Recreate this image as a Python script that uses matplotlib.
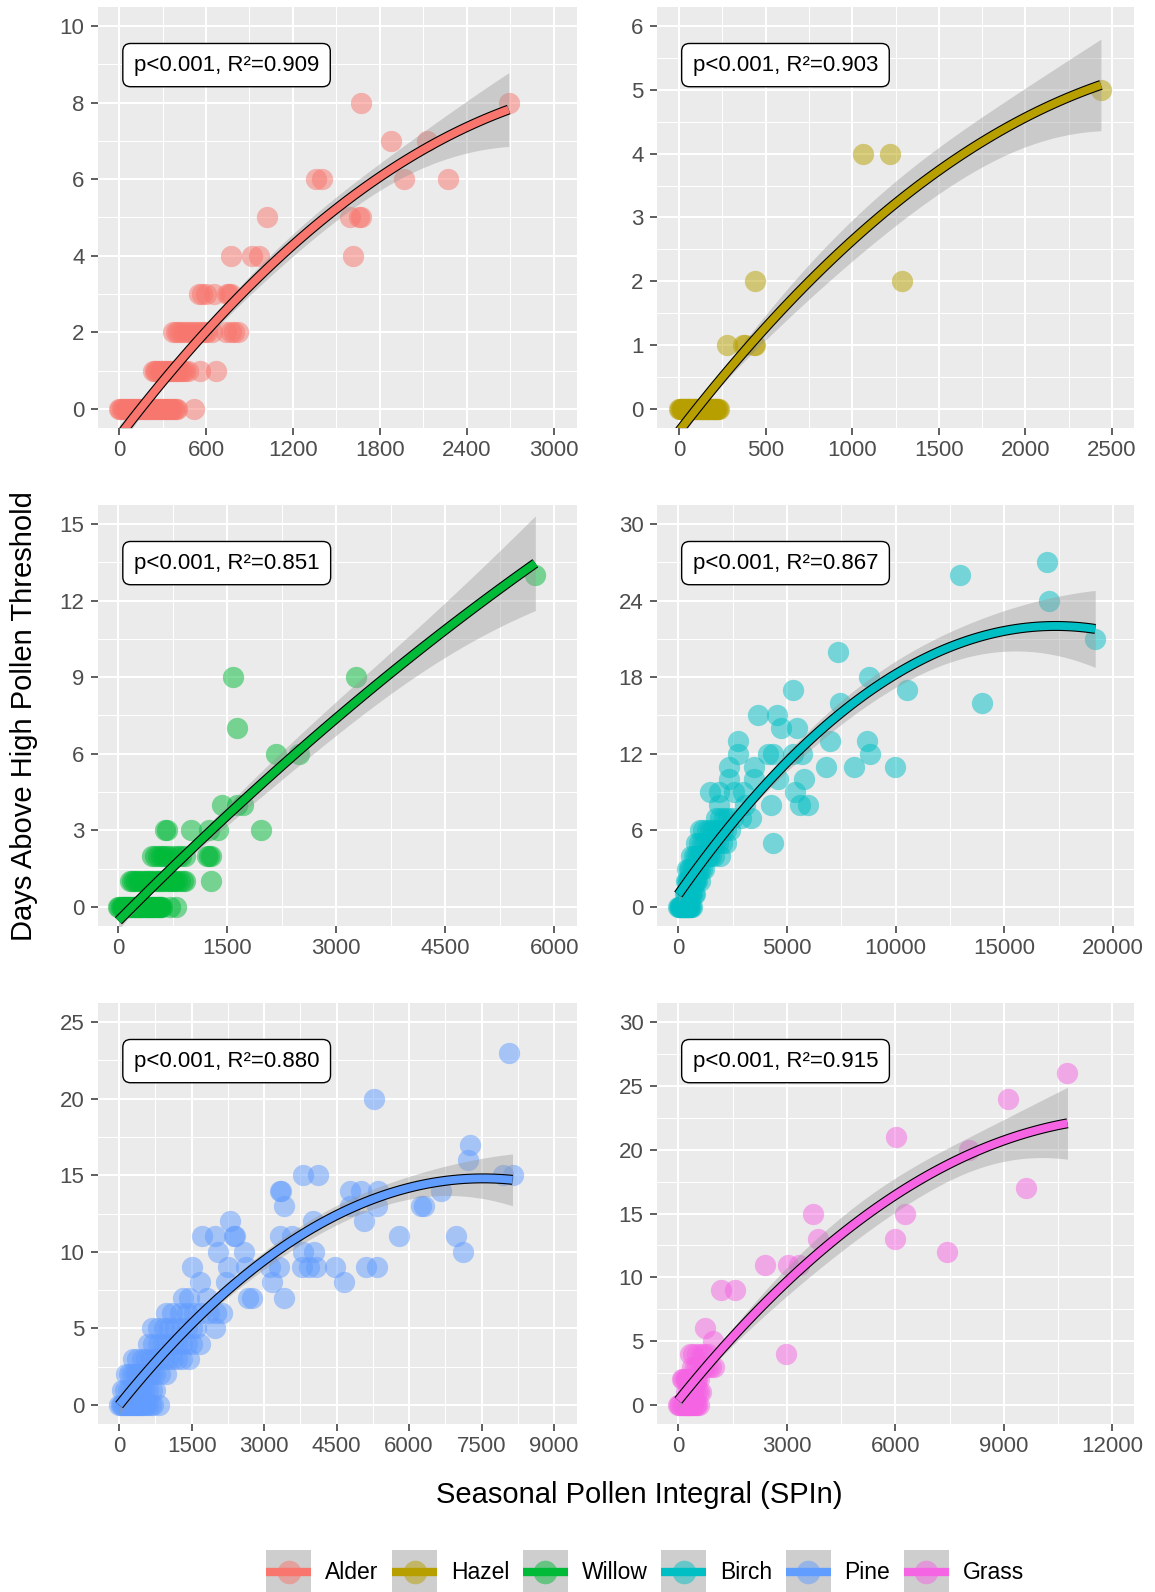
import numpy as np
import matplotlib
matplotlib.use('Agg')
import matplotlib.pyplot as plt
from matplotlib.lines import Line2D
from matplotlib.patches import Rectangle
from matplotlib.legend_handler import HandlerBase

plt.rcParams['font.family'] = ['Liberation Sans', 'DejaVu Sans']

species = ['Alder', 'Hazel', 'Willow', 'Birch', 'Pine', 'Grass']
colors = ['#F8766D', '#B79F00', '#00BA38', '#00BFC4', '#619CFF', '#F564E3']
r2_labels = ['0.909', '0.903', '0.851', '0.867', '0.880', '0.915']

# values (SPIn, days); the saturated blobs near the origin
# hold many overlapping points
alder_x = [0, 10, 20, 30, 40, 50, 60, 70, 80, 90, 100, 110, 120, 130, 140, 150, 160, 170, 180, 190, 200,
           210, 220, 230, 240, 250, 260, 270, 280, 290, 300, 310, 320, 330, 340, 350, 360, 370, 380, 390, 400, 520,
           234, 246, 258, 270, 282, 294, 306, 318, 330, 342, 354, 366, 378, 390, 402, 414, 426, 440, 455, 475, 557, 667,
           371, 390, 410, 430, 450, 470, 490, 510, 530, 550, 570, 590, 610, 640, 735, 770, 790, 818,
           554, 575, 598, 657, 748, 760, 770,
           773, 914, 965, 1616,
           1024, 1590, 1654, 1667,
           1361, 1399, 1968, 2267,
           1879, 2127,
           1672, 2688]
alder_y = [0, 0, 0, 0, 0, 0, 0, 0, 0, 0, 0, 0, 0, 0, 0, 0, 0, 0, 0, 0, 0,
           0, 0, 0, 0, 0, 0, 0, 0, 0, 0, 0, 0, 0, 0, 0, 0, 0, 0, 0, 0, 0,
           1, 1, 1, 1, 1, 1, 1, 1, 1, 1, 1, 1, 1, 1, 1, 1, 1, 1, 1, 1, 1, 1,
           2, 2, 2, 2, 2, 2, 2, 2, 2, 2, 2, 2, 2, 2, 2, 2, 2, 2,
           3, 3, 3, 3, 3, 3, 3,
           4, 4, 4, 4,
           5, 5, 5, 5,
           6, 6, 6, 6,
           7, 7,
           8, 8]

hazel_x = [0, 5, 10, 15, 20, 25, 30, 35, 40, 45, 50, 55, 60, 65, 70, 75, 80, 85, 90, 95, 100, 105, 110, 115,
           120, 125, 130, 135, 140, 145, 150, 155, 160, 165, 170, 175, 180, 185, 190, 195, 200, 205, 210, 215,
           220, 225, 230,
           275, 371, 380, 434, 440,
           441, 1288,
           1063, 1218,
           2436]
hazel_y = [0, 0, 0, 0, 0, 0, 0, 0, 0, 0, 0, 0, 0, 0, 0, 0, 0, 0, 0, 0, 0, 0, 0, 0,
           0, 0, 0, 0, 0, 0, 0, 0, 0, 0, 0, 0, 0, 0, 0, 0, 0, 0, 0, 0,
           0, 0, 0,
           1, 1, 1, 1, 1,
           2, 2,
           4, 4,
           5]

willow_x = [0, 15, 30, 45, 60, 75, 90, 105, 120, 135, 150, 165, 180, 195, 210, 225, 240, 255, 270, 285, 300,
            315, 330, 345, 360, 375, 390, 405, 420, 435, 450, 465, 480, 495, 510, 525, 540, 555, 570, 585, 600,
            714, 791,
            153, 183, 213, 243, 273, 303, 333, 363, 393, 423, 453, 483, 513, 543, 573, 603, 633, 663, 693, 723,
            753, 783, 813, 850, 885, 918, 1276,
            459, 500, 540, 580, 612, 650, 700, 765, 820, 867, 918, 1224, 1250, 1276,
            638, 663, 995, 1250, 1378, 1964,
            1429, 1633, 1709,
            2168, 2490,
            1633,
            1571, 3265,
            5740]
willow_y = [0, 0, 0, 0, 0, 0, 0, 0, 0, 0, 0, 0, 0, 0, 0, 0, 0, 0, 0, 0, 0,
            0, 0, 0, 0, 0, 0, 0, 0, 0, 0, 0, 0, 0, 0, 0, 0, 0, 0, 0, 0,
            0, 0,
            1, 1, 1, 1, 1, 1, 1, 1, 1, 1, 1, 1, 1, 1, 1, 1, 1, 1, 1, 1,
            1, 1, 1, 1, 1, 1, 1,
            2, 2, 2, 2, 2, 2, 2, 2, 2, 2, 2, 2, 2, 2,
            3, 3, 3, 3, 3, 3,
            4, 4, 4,
            6, 6,
            7,
            9, 9,
            13]

birch_x = [0, 30, 60, 90, 120, 150, 180, 210, 240, 270, 300, 330, 360, 390, 420, 450, 480, 515, 550, 590, 630,
           300, 350, 400, 450, 500, 550, 600, 650, 700, 770,
           350, 400, 450, 500, 550, 600, 650, 700, 750, 800, 850, 1000,
           400, 475, 550, 625, 700, 775, 850, 925, 1000, 1100, 1200,
           600, 700, 800, 900, 1000, 1100, 1200, 1300, 1400, 1525, 1650, 1900,
           800, 950, 1100, 1250, 1400, 1550, 1700, 1850, 2000, 2200, 4371,
           1000, 1150, 1300, 1450, 1600, 1750, 1900, 2050, 2200, 2400,
           1722, 1900, 2100, 2300, 2500, 2903, 3325,
           1890, 3072, 4253, 5603, 5992,
           1468, 1890, 2565, 2987, 5350,
           2312, 3494, 4591, 5772,
           2312, 3494, 6785, 8101, 9958,
           2734, 4118, 4338, 5266, 5688, 8810,
           2768, 7004, 8675,
           4726, 5468,
           3662, 4540,
           7460, 13958,
           5300, 10548,
           8760,
           7342,
           19190,
           17046,
           12945,
           16962]
birch_y = [0, 0, 0, 0, 0, 0, 0, 0, 0, 0, 0, 0, 0, 0, 0, 0, 0, 0, 0, 0, 0,
           1, 1, 1, 1, 1, 1, 1, 1, 1, 1,
           2, 2, 2, 2, 2, 2, 2, 2, 2, 2, 2, 2,
           3, 3, 3, 3, 3, 3, 3, 3, 3, 3, 3,
           4, 4, 4, 4, 4, 4, 4, 4, 4, 4, 4, 4,
           5, 5, 5, 5, 5, 5, 5, 5, 5, 5, 5,
           6, 6, 6, 6, 6, 6, 6, 6, 6, 6,
           7, 7, 7, 7, 7, 7, 7,
           8, 8, 8, 8, 8,
           9, 9, 9, 9, 9,
           10, 10, 10, 10,
           11, 11, 11, 11, 11,
           12, 12, 12, 12, 12, 12,
           13, 13, 13,
           14, 14,
           15, 15,
           16, 16,
           17, 17,
           18,
           20,
           21,
           24,
           26,
           27]

pine_x = [0, 30, 60, 90, 120, 150, 180, 210, 240, 270, 300, 330, 360, 390, 420, 450, 480, 510, 550, 600, 650, 700, 830,
          60, 120, 180, 240, 300, 360, 420, 480, 540, 600, 675, 750,
          140, 200, 260, 320, 380, 440, 500, 560, 620, 680, 750, 850, 980,
          290, 380, 470, 560, 650, 740, 830, 920, 1010, 1100, 1200, 1300, 1440,
          600, 700, 800, 900, 1000, 1100, 1200, 1300, 1400, 1500, 1670,
          680, 800, 920, 1040, 1160, 1280, 1400, 1500, 1593, 1975,
          980, 1100, 1250, 1400, 1550, 1700, 1850, 2000, 2130,
          1325, 1450, 1822, 2665, 2741, 3415,
          1669, 2205, 3162, 4655,
          1516, 2243, 2626, 3124, 3315, 3775, 3928, 4081, 4464, 5115, 5329,
          2052, 2588, 3813, 4028, 7106,
          1707, 1975, 2374, 2397, 3331, 3583, 5789, 6968,
          2297, 4005, 5077,
          3415, 4770, 5345, 6248, 6300,
          3338, 3350, 4770, 5000, 5360, 6650,
          3813, 4119, 7948, 8140,
          7221,
          7259,
          5268,
          8063]
pine_y = [0, 0, 0, 0, 0, 0, 0, 0, 0, 0, 0, 0, 0, 0, 0, 0, 0, 0, 0, 0, 0, 0, 0,
          1, 1, 1, 1, 1, 1, 1, 1, 1, 1, 1, 1,
          2, 2, 2, 2, 2, 2, 2, 2, 2, 2, 2, 2, 2,
          3, 3, 3, 3, 3, 3, 3, 3, 3, 3, 3, 3, 3,
          4, 4, 4, 4, 4, 4, 4, 4, 4, 4, 4,
          5, 5, 5, 5, 5, 5, 5, 5, 5, 5,
          6, 6, 6, 6, 6, 6, 6, 6, 6,
          7, 7, 7, 7, 7, 7,
          8, 8, 8, 8,
          9, 9, 9, 9, 9, 9, 9, 9, 9, 9, 9,
          10, 10, 10, 10, 10,
          11, 11, 11, 11, 11, 11, 11, 11,
          12, 12, 12,
          13, 13, 13, 13, 13,
          14, 14, 14, 14, 14, 14,
          15, 15, 15, 15,
          16,
          17,
          20,
          23]

grass_x = [0, 30, 60, 90, 120, 150, 180, 210, 240, 270, 300, 330, 360, 390, 420, 450, 480, 520, 580,
           220, 270, 320, 370, 420, 470, 520, 570, 630,
           100, 140, 172, 210, 250, 290, 330, 370, 410, 450, 490, 530, 570,
           375, 450, 525, 600, 675, 750, 825, 900, 1000,
           320, 420, 527, 620, 700, 831, 2979,
           952,
           750,
           1185, 1560,
           2401, 3040, 3343,
           7416,
           3870, 5978,
           3718, 6281,
           9625,
           8045,
           6018,
           9119,
           10760]
grass_y = [0, 0, 0, 0, 0, 0, 0, 0, 0, 0, 0, 0, 0, 0, 0, 0, 0, 0, 0,
           1, 1, 1, 1, 1, 1, 1, 1, 1,
           2, 2, 2, 2, 2, 2, 2, 2, 2, 2, 2, 2, 2,
           3, 3, 3, 3, 3, 3, 3, 3, 3,
           4, 4, 4, 4, 4, 4, 4,
           5,
           6,
           9, 9,
           11, 11, 11,
           12,
           13, 13,
           15, 15,
           17,
           20,
           21,
           24,
           26]

all_x = [alder_x, hazel_x, willow_x, birch_x, pine_x, grass_x]
all_y = [alder_y, hazel_y, willow_y, birch_y, pine_y, grass_y]

x_limits = [(-145, 3159), (-127, 2627), (-281, 6314), (-980, 20975), (-437, 9474), (-589, 12600)]
y_limits = [(-0.5, 10.5), (-0.3, 6.3), (-0.75, 15.75), (-1.5, 31.5), (-1.25, 26.25), (-1.5, 31.5)]
x_step = [600, 500, 1500, 5000, 1500, 3000]
x_top = [3000, 2500, 6000, 20000, 9000, 12000]
y_step = [2, 1, 3, 6, 5, 5]
y_top = [10, 6, 15, 30, 25, 30]


def poly_fit(x, y, deg=2, n=80):
    # lm(y ~ poly(x, 2)) with 95% confidence band
    x = np.asarray(x, float)
    y = np.asarray(y, float)
    s = x.max()
    X = np.vander(x / s, deg + 1, increasing=True)
    beta = np.linalg.lstsq(X, y, rcond=None)[0]
    resid = y - X @ beta
    sigma2 = resid @ resid / (len(x) - deg - 1)
    cov = sigma2 * np.linalg.inv(X.T @ X)
    xs = np.linspace(x.min(), x.max(), n)
    Xs = np.vander(xs / s, deg + 1, increasing=True)
    fit = Xs @ beta
    se = np.sqrt(np.einsum('ij,jk,ik->i', Xs, cov, Xs))
    return xs, fit, 1.97 * se


W, H = 1155, 1592
fig = plt.figure(figsize=(W / 100, H / 100), dpi=100)

lefts = [98, 657]
widths = [479, 477]
tops = [7, 505, 1003]
ph = 421

for i in range(6):
    r, c = divmod(i, 2)
    ax = fig.add_axes([lefts[c] / W, 1 - (tops[r] + ph) / H, widths[c] / W, ph / H])
    ax.set_facecolor('#EBEBEB')
    for sp in ax.spines.values():
        sp.set_visible(False)
    ax.set_axisbelow(True)

    xt = np.arange(0, x_top[i] + 1, x_step[i])
    yt = np.arange(0, y_top[i] + 1, y_step[i])
    ax.set_xticks(xt)
    ax.set_yticks(yt)
    ax.set_xticks(np.arange(-x_step[i] / 2, x_top[i] + x_step[i], x_step[i]), minor=True)
    ax.set_yticks(np.arange(-y_step[i] / 2, y_top[i] + y_step[i], y_step[i]), minor=True)
    ax.grid(which='major', color='white', lw=1.5)
    ax.grid(which='minor', color='white', lw=0.75)
    ax.tick_params(which='major', length=4.7, width=1.1, color='#333333',
                   labelsize=16, labelcolor='#4D4D4D', pad=4)
    ax.tick_params(axis='y', pad=5)
    ax.tick_params(which='minor', length=0)

    ax.scatter(all_x[i], all_y[i], s=235, color=colors[i], alpha=0.5, linewidths=0, zorder=2)

    xs, fit, band = poly_fit(all_x[i], all_y[i])
    ax.fill_between(xs, fit - band, fit + band, color='#999999', alpha=0.4, lw=0, zorder=3)
    ax.plot(xs, fit, color='black', lw=7.2, solid_capstyle='butt', zorder=4)
    ax.plot(xs, fit, color=colors[i], lw=5.6, solid_capstyle='butt', zorder=5)

    ax.set_xlim(*x_limits[i])
    ax.set_ylim(*y_limits[i])

    ax.text(0.075, 0.862, 'p<0.001, R²=' + r2_labels[i], transform=ax.transAxes,
            fontsize=16, ha='left', va='center', zorder=6,
            bbox=dict(boxstyle='round,pad=0.5,rounding_size=0.35', fc='white', ec='black', lw=1.0))

fig.text(639 / W, 1 - 1495 / H, 'Seasonal Pollen Integral (SPIn)', fontsize=21,
         ha='center', va='center')
fig.text(24 / W, 1 - 716 / H, 'Days Above High Pollen Threshold', fontsize=21,
         ha='center', va='center', rotation=90)


class KeyHandler(HandlerBase):
    # ggplot-like key: grey square, translucent point and a bar, centred on the label
    def create_artists(self, legend, orig_handle, xdescent, ydescent, width, height, fontsize, trans):
        col = orig_handle.get_color()
        cy = (height - ydescent) / 2 - 0.35 * fontsize
        box = Rectangle((-xdescent, cy - height / 2), width, height,
                        facecolor='#CECECE', edgecolor='none', transform=trans)
        dot = Line2D([width / 2 - xdescent], [cy], ls='none', marker='o', ms=17,
                     mfc=col, mec='none', alpha=0.5, transform=trans)
        bar = Line2D([-xdescent, width - xdescent], [cy, cy], color=col, lw=6,
                     solid_capstyle='butt', transform=trans)
        return [box, dot, bar]


handles = [Line2D([], [], color=col) for col in colors]
fig.legend(handles, species, loc='center', bbox_to_anchor=(645 / W, 1 - 1572 / H),
           ncol=6, frameon=False, fontsize=16.5, handlelength=1.96, handleheight=2.58,
           handletextpad=0.6, columnspacing=0.6, borderpad=0, borderaxespad=0,
           handler_map={Line2D: KeyHandler()})

fig.savefig('out.png', dpi=100)
